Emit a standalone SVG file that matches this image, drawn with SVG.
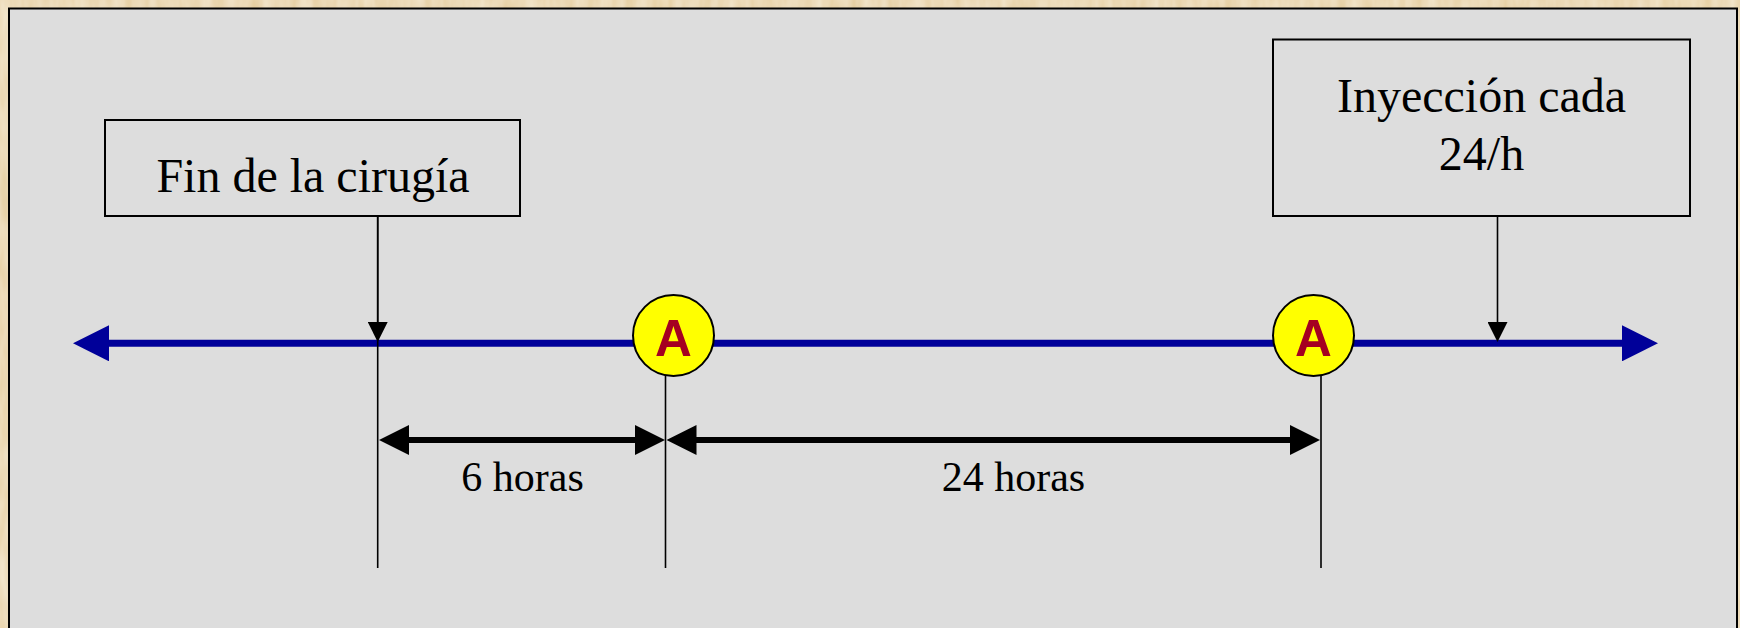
<svg xmlns="http://www.w3.org/2000/svg" width="1740" height="628" viewBox="0 0 1740 628">
  <defs>
    <filter id="parch" x="0" y="0" width="100%" height="100%">
      <feTurbulence type="fractalNoise" baseFrequency="0.08 0.02" numOctaves="3" seed="4" result="n"/>
      <feColorMatrix in="n" type="matrix" values="0 0 0 0 0.90  0 0 0 0 0.80  0 0 0 0 0.62  0 0 0 -1.2 1.1" result="c"/>
      <feComposite in="c" in2="SourceGraphic" operator="over"/>
    </filter>
    <marker id="blueHead" viewBox="0 0 36 36" markerWidth="36" markerHeight="36" refX="1" refY="18" orient="auto-start-reverse" markerUnits="userSpaceOnUse">
      <path d="M0,0 L36,18 L0,36 Z" fill="#000099"/>
    </marker>
    <marker id="dimHead" viewBox="0 0 30 30" markerWidth="30" markerHeight="30" refX="1" refY="15" orient="auto-start-reverse" markerUnits="userSpaceOnUse">
      <path d="M0,0 L30,15 L0,30 Z" fill="#000"/>
    </marker>
    <marker id="pinHead" viewBox="0 0 20 20" markerWidth="20" markerHeight="20" refX="1" refY="10" orient="auto" markerUnits="userSpaceOnUse">
      <path d="M0,0 L20,10 L0,20 Z" fill="#000"/>
    </marker>
  </defs>
  <style>
    .box { fill: #dddddd; stroke: #000; stroke-width: 2; }
    .lbl { font-family: "Liberation Serif", "Times New Roman", serif; fill: #000; text-anchor: middle; }
    .big { font-size: 48px; }
    .mid { font-size: 42px; }
    .thin { stroke: #000; stroke-width: 1.6; fill: none; }
    .dim { stroke: #000; stroke-width: 6; fill: none; }
    .axis { stroke: #000099; stroke-width: 7; fill: none; }
    .dot { fill: #ffff00; stroke: #000; stroke-width: 2; }
    .dotTxt { font-family: "Liberation Sans", Arial, sans-serif; font-weight: bold; font-size: 51px; fill: #a50021; text-anchor: middle; }
  </style>

  <rect x="0" y="0" width="1740" height="628" fill="#e4cc9c" filter="url(#parch)"/>
  <rect id="panel" x="9" y="8.5" width="1728" height="640" fill="#dddddd" stroke="#000" stroke-width="2"/>

  <g id="connectors">
    <line class="axis" x1="108" y1="343.3" x2="1623" y2="343.3" marker-start="url(#blueHead)" marker-end="url(#blueHead)"/>
    <line class="thin" x1="377.7" y1="216" x2="377.7" y2="568"/>
    <line class="thin" x1="377.7" y1="216" x2="377.7" y2="323" marker-end="url(#pinHead)" transform="translate(0,0)"/>
    <line class="thin" x1="1497.5" y1="216" x2="1497.5" y2="323" marker-end="url(#pinHead)"/>
    <line class="thin" x1="665.5" y1="376" x2="665.5" y2="568"/>
    <line class="thin" x1="1321" y1="376" x2="1321" y2="568"/>
    <line class="dim" x1="408" y1="440" x2="636" y2="440" marker-start="url(#dimHead)" marker-end="url(#dimHead)"/>
    <line class="dim" x1="695.5" y1="440" x2="1291" y2="440" marker-start="url(#dimHead)" marker-end="url(#dimHead)"/>
  </g>

  <g id="fin">
    <rect class="box" x="105" y="120" width="415" height="96"/>
    <text class="lbl big" x="313" y="192">Fin de la cirugía</text>
  </g>

  <g id="inyeccion">
    <rect class="box" x="1273" y="39.5" width="417" height="176.5"/>
    <text class="lbl big" x="1481.5" y="111.7">Inyección cada</text>
    <text class="lbl big" x="1481.5" y="170">24/h</text>
  </g>

  <g id="dosisA1">
    <circle class="dot" cx="673.5" cy="335.5" r="40.5"/>
    <text class="dotTxt" x="673.5" y="356">A</text>
  </g>

  <g id="dosisA2">
    <circle class="dot" cx="1313.5" cy="335.5" r="40.5"/>
    <text class="dotTxt" x="1313.5" y="356">A</text>
  </g>

  <g id="label6h">
    <text class="lbl mid" x="522.5" y="491">6 horas</text>
  </g>
  <g id="label24h">
    <text class="lbl mid" x="1013.4" y="491">24 horas</text>
  </g>
</svg>
